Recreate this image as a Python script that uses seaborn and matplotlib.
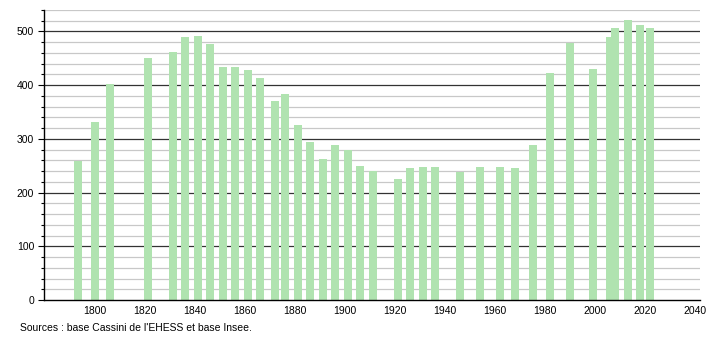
import matplotlib
matplotlib.use("Agg")
import matplotlib.pyplot as plt
import seaborn as sns
import pandas as pd
from matplotlib.ticker import MultipleLocator

years = [1793, 1800, 1806, 1821, 1831, 1836, 1841, 1846, 1851, 1856, 1861, 1866,
         1872, 1876, 1881, 1886, 1891, 1896, 1901, 1906, 1911, 1921, 1926, 1931,
         1936, 1946, 1954, 1962, 1968, 1975, 1982, 1990, 1999, 2006, 2008, 2013,
         2018, 2022]
population = [258, 332, 403, 450, 461, 489, 491, 476, 433, 433, 428, 414,
              370, 384, 326, 295, 262, 288, 279, 250, 240, 226, 245, 247,
              247, 239, 247, 247, 245, 288, 422, 479, 430, 490, 506, 521,
              512, 506]
x_ticks = list(range(1800, 2041, 20))
y_ticks = list(range(0, 501, 100))
source_text = "Sources : base Cassini de l'EHESS et base Insee."

df = pd.DataFrame({"year": years, "pop": population})

sns.set_theme(style="white")
plt.rcParams["font.family"] = ["Liberation Sans", "DejaVu Sans"]

fig = plt.figure(figsize=(7.1, 3.4), dpi=100)
ax = fig.add_axes([44 / 710, 40 / 340, (700 - 44) / 710, 290 / 340])

sns.barplot(data=df, x="year", y="pop", native_scale=True, width=1.6,
            color="#b0e3b0", saturation=1, edgecolor="none", linewidth=0,
            ax=ax, zorder=3)

ax.set_xlim(1779.5, 2042)
ax.set_ylim(0, 540)
ax.set_xticks(x_ticks)
ax.set_xticklabels([str(t) for t in x_ticks])
ax.set_yticks(y_ticks)
ax.set_yticklabels([str(t) for t in y_ticks])
ax.yaxis.set_minor_locator(MultipleLocator(20))

ax.grid(False)
for v in range(20, 541, 20):
    if v % 100 == 0:
        ax.axhline(v, color="#333333", lw=0.9, zorder=2)
    else:
        ax.axhline(v, color="#c8c8c8", lw=0.9, zorder=1)

for s in ["top", "right"]:
    ax.spines[s].set_visible(False)
ax.spines["left"].set_color("#000000")
ax.spines["bottom"].set_color("#000000")
ax.spines["left"].set_linewidth(1.0)
ax.spines["bottom"].set_linewidth(1.0)
ax.spines["bottom"].set_zorder(5)

ax.tick_params(axis="y", which="major", length=4, width=0.8, color="#000000",
               left=True, labelsize=7.5, pad=3, labelcolor="#000000")
ax.tick_params(axis="y", which="minor", length=2, width=0.8, color="#000000",
               left=True)
ax.tick_params(axis="x", which="both", length=0, labelsize=7.5, pad=4,
               labelcolor="#000000")
ax.set_xlabel("")
ax.set_ylabel("")

fig.text(20 / 710, 1 - 328 / 340, source_text, fontsize=7.5, color="#000000",
         va="center", ha="left")

fig.savefig("out.png", dpi=100, facecolor="white")
